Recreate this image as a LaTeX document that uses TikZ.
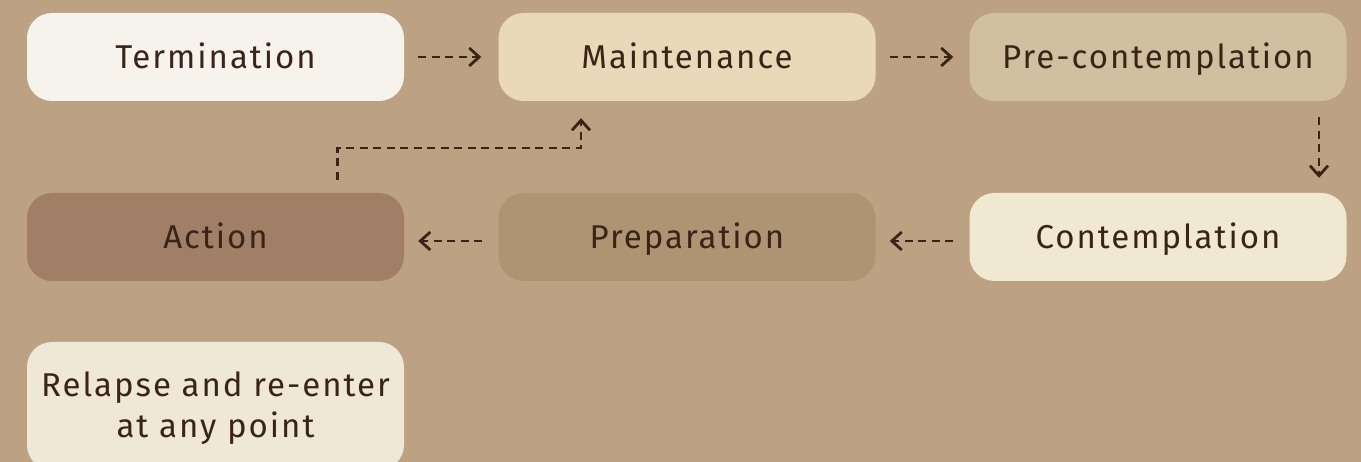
\documentclass[tikz,border=0pt]{standalone}
\usepackage{fontspec}
\setmainfont{Fira Sans}[LetterSpace=6]
\usetikzlibrary{arrows.meta}
\definecolor{bg}{HTML}{BCA282}
\definecolor{ink}{HTML}{3A2418}
\definecolor{cTerm}{HTML}{F6F3EC}
\definecolor{cMaint}{HTML}{E9D9B8}
\definecolor{cPre}{HTML}{D0C0A0}
\definecolor{cCont}{HTML}{F0E8D0}
\definecolor{cPrep}{HTML}{AE9472}
\definecolor{cAct}{HTML}{A07F66}
\definecolor{cRel}{HTML}{EFE8D6}
\tikzset{
  stage/.style={rounded corners=25pt, minimum width=377pt, minimum height=88pt,
    inner sep=0pt, text=ink, font=\fontsize{33}{40}\selectfont, align=center,
    text height=28pt, text depth=4pt},
  flow/.style={draw=ink, line width=2.8pt, dash pattern=on 8pt off 5.5pt,
    -{Straight Barb[length=10pt,width=18pt,line width=2.8pt]}}
}
\begin{document}
\begin{tikzpicture}[x=1pt,y=-1pt]
\useasboundingbox[fill=bg] (0,0) rectangle (1361,462);
\node[stage, fill=cTerm] (term) at (215.5,57) {Termination};
\node[stage, fill=cMaint] (maint) at (687,57) {Maintenance};
\node[stage, fill=cPre] (pre) at (1158,57) {Pre-contemplation};
\node[stage, fill=cAct] (act) at (215.5,237) {Action};
\node[stage, fill=cPrep] (prep) at (687,237) {Preparation};
\node[stage, fill=cCont] (cont) at (1158,237) {Contemplation};
\node[stage, fill=cRel, minimum height=128pt, text height=, text depth=] (rel) at (215.5,406) {};
\node[text=ink, font=\fontsize{33}{40}\selectfont, align=center, inner sep=0pt, anchor=base] (reltext) at (215.5,437) {Relapse and re-enter\\at any point};
\draw[flow] ([xshift=14pt,yshift=0pt]term.east) -- ([xshift=-17pt,yshift=0pt]maint.west);
\draw[flow] ([xshift=14pt,yshift=0pt]maint.east) -- ([xshift=-16pt,yshift=0pt]pre.west);
\draw[flow] ([xshift=161pt,yshift=-16pt]pre.south) -- ([xshift=161pt,yshift=15pt]cont.north);
\draw[flow] ([xshift=-16pt,yshift=-4pt]cont.west) -- ([xshift=14pt,yshift=-4pt]prep.east);
\draw[flow] ([xshift=-16pt,yshift=-4pt]prep.west) -- ([xshift=14pt,yshift=-4pt]act.east);
\coordinate (a1) at ([xshift=122pt,yshift=13pt]act.north);
\coordinate (a2) at ([xshift=-106pt,yshift=-17pt]maint.south);
\draw[flow] (a1) -- (a1 |- 0,148) -- (a2 |- 0,148) -- (a2);
\end{tikzpicture}
\end{document}
